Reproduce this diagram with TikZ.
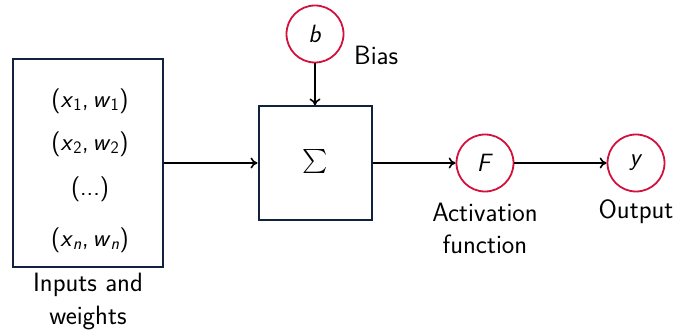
\documentclass[tikz,border=0pt]{standalone}
\usepackage{graphicx}
\usetikzlibrary{arrows.meta}
\definecolor{navy}{RGB}{16,34,62}
\definecolor{crim}{RGB}{210,18,60}
\newcommand{\mv}[2]{\textit{#1}\textsubscript{#2}}
\begin{document}
\begin{tikzpicture}[x=1pt,y=-1pt,
  font=\sffamily\fontsize{25}{30}\selectfont,
  boxst/.style={draw=navy,line width=2pt,fill=white},
  circst/.style={draw=crim,line width=1.8pt,circle,minimum size=57pt,inner sep=0pt},
  arr/.style={-{To[length=7pt,width=11pt]},line width=1.6pt,black},
  lbl/.style={align=center,inner sep=0pt},
  captext/.style={align=center,inner sep=0pt,font=\sffamily\fontsize{26.5}{30}\selectfont}]
\useasboundingbox (0,0) rectangle (676,331);
\node[boxst,minimum width=150pt,minimum height=207pt] (in) at (88,163) {};
\node[lbl] (t1) at (90,101) {(\mv{x}{1},\,\mv{w}{1})};
\node[lbl] (t2) at (90,144) {(\mv{x}{2},\,\mv{w}{2})};
\node[lbl] (t3) at (90,189) {(...)};
\node[lbl] (t4) at (90,240) {(\mv{x}{\textit{n}},\,\mv{w}{\textit{n}})};
\node[captext] (inl) at (88,285) {Inputs and};
\node[captext] (inl2) at (88,318) {weights};
\node[boxst,minimum width=113pt,minimum height=113pt] (sum) at (315,163) {\scalebox{2.4}{$\sum$}};
\node[circst] (b) at (315,34) {\textit{b}};
\node[captext,anchor=west] (bias) at (354,55) {Bias};
\node[circst] (F) at (485,163) {\textit{F}};
\node[circst] (y) at (636,163) {\textit{y}};
\node[captext] (act) at (485,212) {Activation};
\node[captext] (act2) at (485,244) {function};
\node[captext] (out) at (636,212) {Output};
\draw[arr] (in.east) -- (sum.west);
\draw[arr] (b.south) -- (sum.north);
\draw[arr] (sum.east) -- (F.west);
\draw[arr] (F.east) -- (y.west);
\end{tikzpicture}
\end{document}
